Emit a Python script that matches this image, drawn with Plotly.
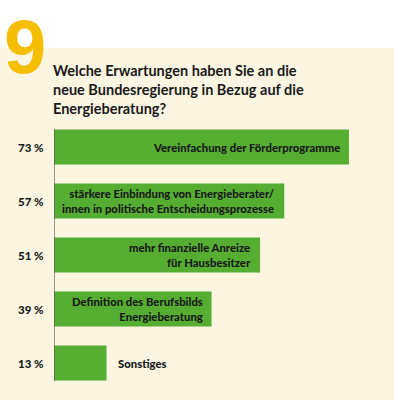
import plotly.graph_objects as go

categories = ["Vereinfachung der Förderprogramme",
              "stärkere Einbindung von Energieberater/<br>innen in politische Entscheidungsprozesse",
              "mehr finanzielle Anreize<br>für Hausbesitzer",
              "Definition des Berufsbilds<br>Energieberatung",
              "Sonstiges"]
values = [73, 57, 51, 39, 13]
pct_labels = ["73 %", "57 %", "51 %", "39 %", "13 %"]
positions = [0, 1, 2, 3, 4]

GREEN = "#55AD32"
CREAM = "#FBF5E1"
YELLOW = "#F6BE00"
TXT = "#1a1a1a"
COND = "Lato, sans-serif"

fig = go.Figure()
fig.add_trace(go.Bar(x=values, y=positions, orientation="h", width=0.65,
                     marker=dict(color=GREEN, line=dict(width=0)),
                     hoverinfo="skip"))

# background cream panel
fig.add_shape(type="rect", xref="paper", yref="paper", x0=-1, x1=2,
              y0=-1, y1=1 + (120 - 48) / 270, fillcolor=CREAM, line_width=0, layer="below")

# axis line
fig.add_shape(type="line", xref="x", yref="y", x0=0, x1=0, y0=-0.34, y1=4.34,
              line=dict(color="#555555", width=1.2))

annotations = []
for p, v, c, pl in zip(positions, values, categories, pct_labels):
    annotations.append(dict(x=0, y=p, xref="x", yref="y", text=pl,
                            xanchor="right", xshift=-8, showarrow=False,
                            font=dict(family=COND, size=11.5, color=TXT, weight=900)))
    if v > 20:
        annotations.append(dict(x=v, y=p, xref="x", yref="y", text=c,
                                xanchor="right", xshift=-7, align="right", showarrow=False,
                                font=dict(family=COND, size=11.3, color=TXT, weight=900)))
    else:
        annotations.append(dict(x=v, y=p, xref="x", yref="y", text=c,
                                xanchor="left", xshift=9, align="left", showarrow=False,
                                font=dict(family=COND, size=11.3, color=TXT, weight=900)))

annotations.append(dict(x=-54 / 340, y=1 + (120 - 2) / 270, xref="paper", yref="paper",
                        text="<b>9</b>", xanchor="left", yanchor="top", xshift=2, showarrow=False,
                        font=dict(family="Liberation Sans, Arial, sans-serif", size=76, color=YELLOW)))
annotations.append(dict(x=-3 / 340, y=1 + (120 - 60) / 270, xref="paper", yref="paper",
                        text="<b>Welche Erwartungen haben Sie an die<br>neue Bundesregierung in Bezug auf die<br>Energieberatung?</b>",
                        xanchor="left", yanchor="top", align="left", showarrow=False,
                        font=dict(family="Lato, sans-serif", size=14.5, color=TXT)))

fig.update_layout(
    width=394, height=400,
    margin=dict(l=54, r=0, t=120, b=10),
    paper_bgcolor="white", plot_bgcolor="rgba(0,0,0,0)",
    showlegend=False,
    xaxis=dict(range=[0, 340 / 4.04], visible=False, fixedrange=True),
    yaxis=dict(range=[4.5, -0.5], visible=False, fixedrange=True),
    annotations=annotations,
)

fig.write_html("out.html", config={"displayModeBar": False},
               post_script="document.body.style.margin='0';")
